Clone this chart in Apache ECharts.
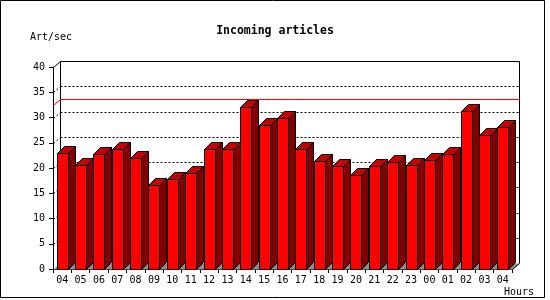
<!DOCTYPE html>
<html><head><meta charset="utf-8">
<script src="https://cdn.jsdelivr.net/npm/echarts@6/dist/echarts.min.js"></script>
<style>html,body{margin:0;padding:0;background:#fff}#c{width:550px;height:300px}</style>
</head><body><div id="c"></div>
<script>
// ---- data ----
const hours = ['04','05','06','07','08','09','10','11','12','13','14','15','16','17','18','19','20','21','22','23','00','01','02','03','04'];
const artPerSec = [22.9, 20.6, 22.75, 23.7, 21.9, 16.6, 17.8, 18.95, 23.7, 23.7, 32.1, 28.6, 30.0, 23.7, 21.3, 20.4, 18.6, 20.4, 21.2, 20.6, 21.5, 22.7, 31.25, 26.5, 28.1];
const gridValues = [5, 10, 15, 20, 25, 30, 35];
const peakValue = [32.4];

const FONT = 'DejaVu Sans Mono';
const DX = 7, DY = 6;     // plot-frame depth
const BDX = 7, BDY = 7;   // bar depth
const px = v => Math.round(v) + 0.5;

const chart = echarts.init(document.getElementById('c'), null, {renderer: 'canvas'});

function seg(x1, y1, x2, y2, style) {
  return {type: 'line', shape: {x1, y1, x2, y2}, style: Object.assign({lineWidth: 1}, style)};
}

function renderBack(params, api) {
  const cs = params.coordSys;
  const left = px(cs.x), right = px(cs.x + cs.width);
  const y0 = px(api.coord([0, 0])[1]);
  const yMax = px(api.coord([0, 40])[1]);
  const children = [];
  children.push({type: 'polygon', shape: {points: [[left, y0], [right, y0], [right + DX, y0 - DY], [left + DX, y0 - DY]]},
    style: {fill: '#8c8c8c', stroke: null}});
  gridValues.forEach(v => {
    const y = px(api.coord([0, v])[1]);
    children.push(seg(left, y, left + DX, y - DY, {stroke: '#000', lineDash: [2, 2]}));
    children.push(seg(left + DX, y - DY, right + DX, y - DY, {stroke: '#000', lineDash: [2, 2]}));
  });
  children.push({type: 'polyline', shape: {points: [[left + DX, y0 - DY], [left + DX, yMax - DY], [right + DX, yMax - DY], [right + DX, y0 - DY], [right, y0]]},
    style: {stroke: '#000', lineWidth: 1, fill: null}});
  children.push(seg(left, yMax, left + DX, yMax - DY, {stroke: '#000'}));
  return {type: 'group', children};
}

function renderPeak(params, api) {
  const cs = params.coordSys;
  const left = px(cs.x), right = px(cs.x + cs.width);
  const y = px(api.coord([0, api.value(1)])[1]);
  return {type: 'polyline', shape: {points: [[left, y], [left + DX, y - DY], [right + DX, y - DY]]},
    style: {stroke: 'rgb(255,0,0)', lineWidth: 1, fill: null, opacity: 1}};
}

function renderBar(params, api) {
  const idx = api.value(0), v = api.value(1);
  const top = api.coord([idx, v]);
  const base = api.coord([idx, 0]);
  const bw = Math.round(api.size([1, 0])[0] * 0.6);
  const xl = px(top[0] - bw / 2), xr = xl + bw;
  const yt = px(top[1]), yb = px(base[1]);
  return {type: 'group', children: [
    {type: 'polygon', shape: {points: [[xr, yb], [xr + BDX, yb - BDY], [xr + BDX, yt - BDY], [xr, yt]]},
      style: {fill: '#800000', stroke: '#000', lineWidth: 1}},
    {type: 'polygon', shape: {points: [[xl, yt], [xl + BDX, yt - BDY], [xr + BDX, yt - BDY], [xr, yt]]},
      style: {fill: '#c00000', stroke: '#000', lineWidth: 1}},
    {type: 'rect', shape: {x: xl, y: yt, width: bw, height: yb - yt},
      style: {fill: '#ff0000', stroke: '#000', lineWidth: 1}}
  ]};
}

chart.setOption({
  animation: false,
  backgroundColor: '#fff',
  title: {text: 'Incoming articles', left: 'center', top: 20,
    textStyle: {fontFamily: FONT, fontWeight: 'bold', fontSize: 11.5, color: '#000'}},
  grid: {left: 53, right: 38, top: 67, bottom: 31, containLabel: false},
  xAxis: {type: 'category', data: hours, boundaryGap: true,
    axisLine: {show: true, lineStyle: {color: '#000', width: 1}},
    axisTick: {show: true, length: 4, lineStyle: {color: '#000'}},
    axisLabel: {interval: 0, color: '#000', fontFamily: FONT, fontSize: 10, margin: 6},
    splitLine: {show: false}},
  yAxis: {type: 'value', min: 0, max: 40, interval: 5,
    axisLine: {show: true, lineStyle: {color: '#000', width: 1}},
    axisTick: {show: true, length: 4, lineStyle: {color: '#000'}},
    axisLabel: {color: '#000', fontFamily: FONT, fontSize: 10, margin: 8},
    splitLine: {show: false}},
  graphic: [
    {type: 'rect', shape: {x: 0.5, y: 0.5, width: 544, height: 297}, style: {fill: null, stroke: '#000', lineWidth: 1}, z: 100},
    {type: 'text', x: 30, y: 37, style: {text: 'Art/sec', font: '10px "DejaVu Sans Mono"', fill: '#000', verticalAlign: 'middle', align: 'left'}},
    {type: 'text', x: 534, y: 292, style: {text: 'Hours', font: '10px "DejaVu Sans Mono"', fill: '#000', verticalAlign: 'middle', align: 'right'}}
  ],
  series: [
    {type: 'custom', name: 'back', renderItem: renderBack, data: [[0, 0]], z: 1, silent: true,
      encode: {x: 0, y: 1}},
    {type: 'custom', name: 'peak', renderItem: renderPeak, data: peakValue.map(v => [0, v]), z: 2, silent: true,
      itemStyle: {color: '#ff0000'}, encode: {x: 0, y: 1}},
    {type: 'custom', name: 'Art/sec', renderItem: renderBar, z: 3,
      data: artPerSec.map((v, i) => [i, v]), encode: {x: 0, y: 1}}
  ]
});
</script></body></html>
